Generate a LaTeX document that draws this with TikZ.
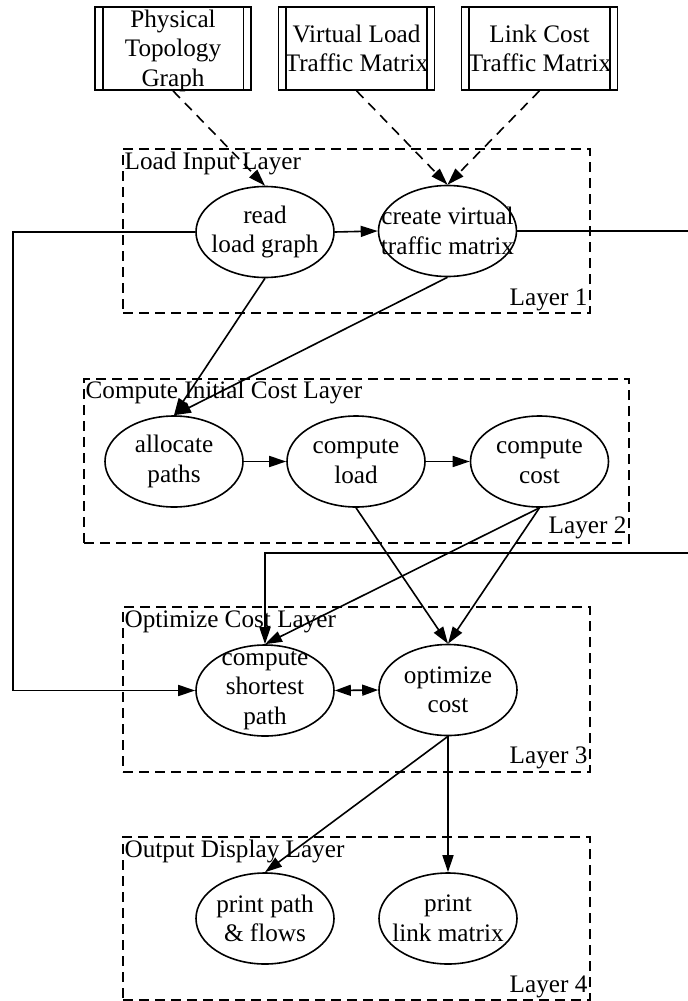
\documentclass[tikz,border=0pt]{standalone}
\usepackage{fontspec}
\setmainfont{Liberation Serif}
\usetikzlibrary{arrows.meta,shapes.geometric}
\begin{document}
\begin{tikzpicture}[x=0.5pt,y=-0.5pt,
  every node/.style={font=\fontsize{12.6}{14.75}\selectfont, text=black},
  proc/.style={draw, ellipse, line width=0.8pt, minimum width=69pt, minimum height=45.5pt, inner sep=0pt},
  src/.style={draw, rectangle, line width=0.8pt, minimum width=78pt, minimum height=41.5pt, inner sep=0pt},
  layerbox/.style={draw, rectangle, line width=0.75pt, dash pattern=on 5pt off 3pt, inner sep=0pt, minimum width=233.5pt},
  toplab/.style={anchor=base west, inner sep=0pt},
  botlab/.style={anchor=base east, inner sep=0pt},
  edge/.style={line width=0.8pt, -{Triangle[length=8.5pt,width=5.5pt]}},
  dedge/.style={line width=0.8pt, dash pattern=on 5pt off 3.5pt, -{Triangle[length=8.5pt,width=5.5pt]}},
  bedge/.style={line width=0.8pt, {Triangle[length=8pt,width=5.5pt]}-{Triangle[length=8pt,width=5.5pt]}}
]
\useasboundingbox (0,0) rectangle (688,1001);
\clip (0,0) rectangle (688,1001);
\fill[white] (0,0) rectangle (688,1001);

% layer clusters
\node[layerbox, minimum height=82pt] (L1) at (356.5,231) {};
\node[layerbox, minimum width=272.5pt, minimum height=82pt] (L2) at (356.5,461) {};
\node[layerbox, minimum height=82.5pt] (L3) at (356.5,689.5) {};
\node[layerbox, minimum height=81.5pt] (L4) at (356.5,918.5) {};

\node[toplab] (L1t) at ([xshift=1pt,yshift=-10.5pt]L1.north west) {Load Input Layer};
\node[toplab] (L2t) at ([xshift=1pt,yshift=-10pt]L2.north west) {Compute Initial Cost Layer};
\node[toplab] (L3t) at ([xshift=1pt,yshift=-10.5pt]L3.north west) {Optimize Cost Layer};
\node[toplab] (L4t) at ([xshift=1pt,yshift=-10.5pt]L4.north west) {Output Display Layer};
\node[botlab] (L1b) at ([xshift=-1.5pt,yshift=4pt]L1.south east) {Layer 1};
\node[botlab] (L2b) at ([xshift=-1.5pt,yshift=5pt]L2.south east) {Layer 2};
\node[botlab] (L3b) at ([xshift=-1.5pt,yshift=4.5pt]L3.south east) {Layer 3};
\node[botlab] (L4b) at ([xshift=-1.5pt,yshift=4pt]L4.south east) {Layer 4};

% source boxes
\node[src, label={[align=center,yshift=-1pt]center:{Physical\\Topology\\Graph}}] (b1) at (173,48.5) {};
\node[src, label={[align=center]center:{Virtual Load\\Traffic Matrix}}] (b2) at (356.5,48.5) {};
\node[src, label={[align=center]center:{Link Cost\\Traffic Matrix}}] (b3) at (539.5,48.5) {};
\foreach \b in {b1,b2,b3}{
  \draw[line width=0.8pt] ([xshift=4.25pt]\b.north west) -- ([xshift=4.25pt]\b.south west);
  \draw[line width=0.8pt] ([xshift=-4.25pt]\b.north east) -- ([xshift=-4.25pt]\b.south east);
}

% process ellipses
\node[proc, label={[align=center]center:{read\\load graph}}] (read) at (265,232) {};
\node[proc, label={[align=center]center:{create virtual\\traffic matrix}}] (create) at (447.5,231) {};
\node[proc, label={[align=center]center:{allocate\\paths}}] (alloc) at (174,461.5) {};
\node[proc, label={[align=center]center:{compute\\load}}] (load) at (356,461.5) {};
\node[proc, label={[align=center]center:{compute\\cost}}] (cost) at (539.5,461.5) {};
\node[proc, label={[align=center]center:{compute\\shortest\\path}}] (sp) at (265,690.5) {};
\node[proc, label={[align=center]center:{optimize\\cost}}] (opt) at (448,690) {};
\node[proc, label={[align=center]center:{print path\\\& flows}}] (pp) at (265,918.5) {};
\node[proc, label={[align=center]center:{print\\link matrix}}] (pl) at (448,918.5) {};

% helper coordinates for routed edges
\coordinate (Lx) at (13,0);
\coordinate (Rx) at (700,553);

% edges
\draw[dedge] (b1.south) -- (read.north);
\draw[dedge] (b2.south) -- (create.north);
\draw[dedge] (b3.south) -- (create.north);
\draw[edge] (read.east) -- (create.west);
\draw[edge] (read.south) -- (alloc.north);
\draw[edge] (create.south) -- (alloc.north);
\draw[edge] (alloc.east) -- (load.west);
\draw[edge] (load.east) -- (cost.west);
\draw[edge] (load.south) -- (opt.north);
\draw[edge] (cost.south) -- (opt.north);
\draw[edge] (cost.south) -- (sp.north);
\draw[edge] (read.west) -- (read.west -| Lx) -- (sp.west -| Lx) -- (sp.west);
\draw[edge] (create.east) -- (create.east -| Rx) -- (Rx) -- (sp.north |- Rx) -- (sp.north);
\draw[bedge] (sp.east) -- (opt.west);
\draw[edge] (opt.south) -- (pp.north);
\draw[edge] (opt.south) -- (pl.north);
\end{tikzpicture}
\end{document}
